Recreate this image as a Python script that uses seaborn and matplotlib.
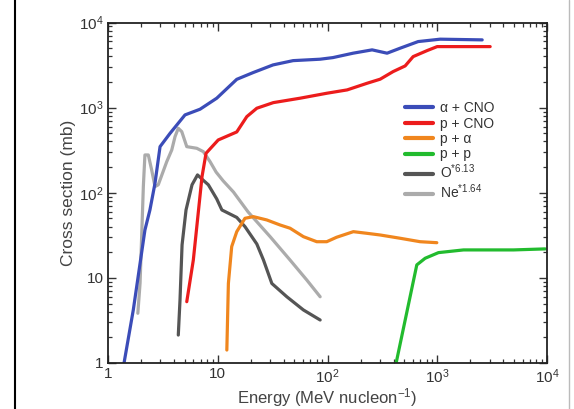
import numpy as np
import pandas as pd
import matplotlib
matplotlib.use("Agg")
import matplotlib.pyplot as plt
import seaborn as sns
from matplotlib.ticker import LogLocator, FixedLocator, FixedFormatter, NullFormatter
from matplotlib.lines import Line2D

sns.set_theme(style="white")
plt.rcParams['font.family'] = ['Liberation Sans', 'DejaVu Sans']
plt.rcParams['mathtext.fontset'] = 'custom'
plt.rcParams['mathtext.rm'] = 'Liberation Sans'
plt.rcParams['mathtext.it'] = 'Liberation Sans'
plt.rcParams['mathtext.bf'] = 'Liberation Sans'

# ---- data ----
alpha_cno_E = [1.40, 1.70, 2.17, 2.41, 2.68, 2.98, 3.68, 5.03, 6.90, 9.79, 14.9, 21.0,
               31.9, 48.6, 85.7, 112, 171, 255, 349, 459, 670, 1063, 2567]
alpha_cno_s = [1.0, 4.2, 36.5, 62.8, 129, 348, 500, 821, 958, 1290, 2150, 2580,
               3175, 3565, 3705, 3870, 4360, 4770, 4360, 4990, 5970, 6370, 6250]

p_cno_E = [5.22, 5.99, 7.19, 7.82, 10.1, 14.9, 18.4, 22.7, 32.1, 56.2, 99, 151, 230,
           302, 396, 510, 603, 809, 998, 3035]
p_cno_s = [5.25, 16.2, 155, 291, 417, 518, 784, 984, 1145, 1290, 1477, 1615, 1935,
           2158, 2650, 3090, 3975, 4680, 5210, 5210]

p_alpha_E = [12.1, 12.5, 13.4, 14.9, 17.7, 21.1, 28.0, 37.0, 45.6, 60.3, 79.8, 98.4,
             121, 172, 228, 302, 459, 698, 991]
p_alpha_s = [1.42, 8.6, 23.3, 34.9, 50.1, 52.4, 47.9, 41.8, 38.3, 30.5, 26.6, 26.6,
             30.0, 34.9, 33.4, 31.9, 29.2, 26.6, 25.9]

p_p_E = [422, 651, 776, 1026, 1734, 4955, 9630]
p_p_s = [1.0, 14.2, 17.0, 19.8, 21.3, 21.3, 21.9]

o_E = [4.37, 4.53, 4.73, 5.14, 5.83, 6.54, 7.34, 8.21, 9.79, 10.9, 14.9, 17.7, 22.7,
       26.1, 31.1, 42.6, 60.3, 85.7]
o_s = [2.13, 5.5, 24.4, 62.8, 124, 162, 141, 124, 84.6, 62.8, 51.3, 40, 25, 16.2,
       8.6, 6.0, 4.2, 3.2]

ne_E = [1.87, 1.96, 2.10, 2.17, 2.33, 2.50, 2.68, 2.87, 3.43, 3.81, 4.08, 4.37, 4.70,
        5.22, 6.44, 7.39, 8.51, 9.66, 11.2, 13.9, 18.9, 30.0, 45.6, 64.7, 85.7]
ne_s = [3.84, 8.7, 120, 278, 278, 185, 118, 124, 232, 318, 456, 572, 522, 348, 333,
        304, 232, 175, 138, 102, 59.5, 30.5, 16.2, 9.45, 6.0]

labels = ['\u03b1 + CNO', 'p + CNO', 'p + \u03b1', 'p + p',
          'O$^{*6.13}$', 'Ne$^{*1.64}$']
colors = ['#3b4cb8', '#ec1c1c', '#f0861e', '#22bb2e', '#555555', '#ababab']

x_ticks = [1, 10, 100, 1000, 10000]
x_ticklabels = ['1', '10', '$10^{2}$', '$10^{3}$', '$10^{4}$']
y_ticks = [1, 10, 100, 1000, 10000]
y_ticklabels = ['1', '10', '$10^{2}$', '$10^{3}$', '$10^{4}$']

series = [(alpha_cno_E, alpha_cno_s), (p_cno_E, p_cno_s), (p_alpha_E, p_alpha_s),
          (p_p_E, p_p_s), (o_E, o_s), (ne_E, ne_s)]

# ---- figure ----
fig = plt.figure(figsize=(5.74, 4.09), dpi=100)
ax = fig.add_axes([108/574, 46/409, 439/574, 340.5/409])

draw_order = [5, 4, 3, 2, 1, 0]
for i in draw_order:
    E, s = series[i]
    df = pd.DataFrame({'E': E, 's': s})
    sns.lineplot(data=df, x='E', y='s', ax=ax, color=colors[i], lw=2.3,
                 sort=False, estimator=None, label=None)

ax.set_xscale('log')
ax.set_yscale('log')
ax.set_xlim(1, 10000)
ax.set_ylim(1, 10000)

ax.xaxis.set_major_locator(FixedLocator(x_ticks))
ax.xaxis.set_major_formatter(FixedFormatter(x_ticklabels))
ax.yaxis.set_major_locator(FixedLocator(y_ticks))
ax.yaxis.set_major_formatter(FixedFormatter(y_ticklabels))
ax.xaxis.set_minor_locator(LogLocator(base=10, subs=np.arange(2, 10), numticks=20))
ax.yaxis.set_minor_locator(LogLocator(base=10, subs=np.arange(2, 10), numticks=20))
ax.xaxis.set_minor_formatter(NullFormatter())
ax.yaxis.set_minor_formatter(NullFormatter())

ax.tick_params(which='both', direction='in', top=True, right=True, bottom=True, left=True,
               colors='#333333', labelcolor='#333333', labelsize=11)
ax.tick_params(which='major', length=6, width=1.0)
ax.tick_params(which='minor', length=3, width=0.9)
ax.tick_params(axis='x', pad=3)
ax.tick_params(axis='y', pad=3)
for sp in ax.spines.values():
    sp.set_color('#222222')
    sp.set_linewidth(1.3)

ax.set_xlabel('Energy (MeV nucleon$^{-1}$)', fontsize=12, color='#444444', labelpad=0.5)
ax.set_ylabel('Cross section (mb)', fontsize=12.5, color='#444444', labelpad=2)

handles = [Line2D([0], [0], color=c, lw=3) for c in colors]
leg = ax.legend(handles, labels, loc='upper left', bbox_to_anchor=(0.665, 0.785),
                frameon=False, fontsize=10, handlelength=2.0, handletextpad=0.5,
                labelspacing=0.1, borderaxespad=0)
for t in leg.get_texts():
    t.set_color('#333333')

# side frame lines of the picture
fig.add_artist(Line2D([15/574, 15/574], [0.0, 1.0], color='black', lw=1.5,
                      transform=fig.transFigure))
fig.add_artist(Line2D([569/574, 569/574], [0.0, 1.0], color='#bbbbbb', lw=1.0,
                      transform=fig.transFigure))

fig.savefig('out.png', dpi=100)
